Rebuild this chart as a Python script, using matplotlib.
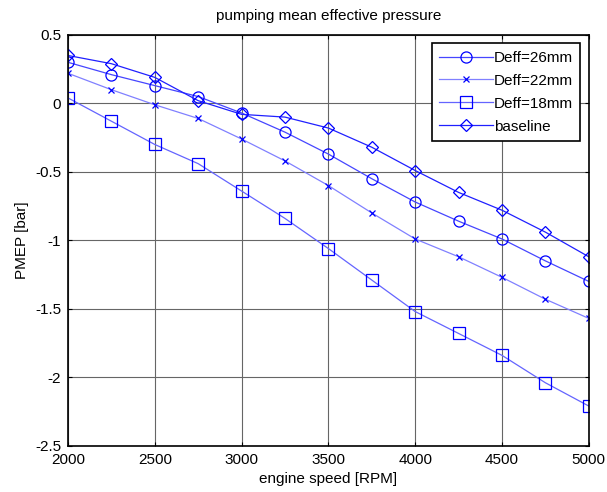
import matplotlib.pyplot as plt
import numpy as np

plt.rcParams['font.family'] = ['Liberation Sans', 'DejaVu Sans']

rpm = np.arange(2000, 5001, 250)

pmep_26 = [0.30, 0.21, 0.13, 0.05, -0.07, -0.21, -0.37, -0.55, -0.72, -0.86, -0.99, -1.15, -1.30]
pmep_22 = [0.22, 0.10, -0.01, -0.11, -0.26, -0.42, -0.60, -0.80, -0.99, -1.12, -1.27, -1.43, -1.57]
pmep_18 = [0.04, -0.13, -0.30, -0.44, -0.64, -0.84, -1.06, -1.29, -1.52, -1.68, -1.84, -2.04, -2.21]
pmep_base = [0.35, 0.29, 0.19, 0.02, -0.08, -0.10, -0.18, -0.32, -0.49, -0.65, -0.78, -0.94, -1.12]

fs = 11

fig = plt.figure(figsize=(6.07, 4.92), dpi=100)
ax = fig.add_axes([0.112, 0.094, 0.858, 0.835])

ax.plot(rpm, pmep_26, color='#4646ff', lw=0.9, marker='o', ms=8,
        mfc='none', mec='#0000ff', mew=0.9, label='Deff=26mm')
ax.plot(rpm, pmep_22, color='#8080ff', lw=0.9, marker='x', ms=4,
        mec='#0000ff', mew=0.9, label='Deff=22mm')
ax.plot(rpm, pmep_18, color='#6464ff', lw=0.9, marker='s', ms=8,
        mfc='none', mec='#0000ff', mew=0.9, label='Deff=18mm')
ax.plot(rpm, pmep_base, color='#2020ff', lw=0.9, marker='D', ms=6.5,
        mfc='none', mec='#0000ff', mew=0.9, label='baseline')

ax.set_xlim(2000, 5000)
ax.set_ylim(-2.5, 0.5)
ax.set_xticks(np.arange(2000, 5001, 500))
ax.set_yticks(np.arange(-2.5, 0.51, 0.5))
ax.set_yticklabels(['-2.5', '-2', '-1.5', '-1', '-0.5', '0', '0.5'])

ax.grid(True, color='#666666', lw=0.8)
ax.tick_params(direction='in', top=True, right=True, length=3, labelsize=fs,
               color='black', pad=5)
for sp in ax.spines.values():
    sp.set_linewidth(1.2)
    sp.set_color('black')

ax.set_title('pumping mean effective pressure', fontsize=fs, pad=11)
ax.set_xlabel('engine speed [RPM]', fontsize=fs, labelpad=4)
ax.set_ylabel('PMEP [bar]', fontsize=fs, labelpad=4)

leg = ax.legend(loc='upper right', fontsize=fs, fancybox=False, framealpha=1,
                edgecolor='black', handlelength=3.5, handletextpad=0.05,
                labelspacing=0.58, borderaxespad=0.55, borderpad=0.5)
leg.get_frame().set_linewidth(1.2)

fig.savefig('out.png', dpi=100)
